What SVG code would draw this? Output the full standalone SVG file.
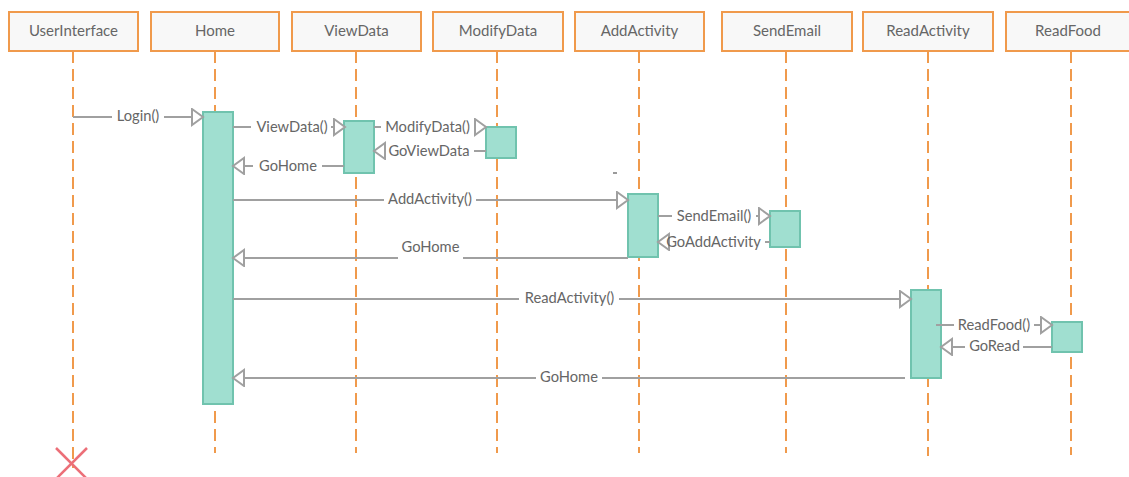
<svg xmlns="http://www.w3.org/2000/svg" width="1129" height="477" viewBox="0 0 1129 477">
  <style>
    .hdr { fill: #f8f8f8; stroke: #f09a4c; stroke-width: 2; }
    .life { stroke: #f09a4c; stroke-width: 2; stroke-dasharray: 12 6; fill: none; }
    .act { fill: #a0dfd0; stroke: #70c3ae; stroke-width: 2; }
    .name { font-family: Lato, "Liberation Sans", sans-serif; font-size: 15px; fill: #666666; text-anchor: middle; }
    .msg { stroke: #a0a0a0; stroke-width: 2; fill: none; }
    .lbl { font-family: Lato, "Liberation Sans", sans-serif; font-size: 14.7px; fill: #666666; text-anchor: middle; }
  </style>
  <defs>
    <marker id="open" markerUnits="userSpaceOnUse" markerWidth="16" markerHeight="20" refX="12" refY="9" orient="auto">
      <path d="M1,1 L12,9 L1,17 Z" fill="#ffffff" stroke="#a0a0a0" stroke-width="2" stroke-linejoin="miter"/>
    </marker>
  </defs>
  <rect width="1129" height="477" fill="#ffffff"/>

  <g id="UserInterface">
    <line class="life" x1="73" y1="51" x2="73" y2="468"/>
    <rect class="hdr" x="9" y="12" width="129" height="39"/>
    <text class="name" x="73.5" y="36">UserInterface</text>
    <g id="destroy" stroke="#ec6f78" stroke-width="2.5">
      <line x1="56" y1="448" x2="87" y2="479"/>
      <line x1="87" y1="448" x2="56" y2="479"/>
    </g>
  </g>

  <g id="Home">
    <line class="life" x1="215" y1="51" x2="215" y2="453"/>
    <rect class="hdr" x="151" y="12" width="128" height="39"/>
    <text class="name" x="215" y="36">Home</text>
    <rect class="act" x="203" y="112" width="30" height="292"/>
  </g>

  <g id="ViewData">
    <line class="life" x1="356" y1="51" x2="356" y2="453"/>
    <rect class="hdr" x="292" y="12" width="129" height="39"/>
    <text class="name" x="356.5" y="36">ViewData</text>
    <rect class="act" x="344" y="121" width="30" height="52"/>
  </g>

  <g id="ModifyData">
    <line class="life" x1="497" y1="51" x2="497" y2="453"/>
    <rect class="hdr" x="433" y="12" width="130" height="39"/>
    <text class="name" x="498" y="36">ModifyData</text>
    <rect class="act" x="486" y="127" width="30" height="31"/>
  </g>

  <g id="AddActivity">
    <line class="life" x1="639" y1="51" x2="639" y2="453"/>
    <rect class="hdr" x="575" y="12" width="129" height="39"/>
    <text class="name" x="639.5" y="36">AddActivity</text>
    <rect class="act" x="628" y="194" width="30" height="63"/>
  </g>

  <g id="SendEmail">
    <line class="life" x1="786" y1="51" x2="786" y2="453"/>
    <rect class="hdr" x="722" y="12" width="130" height="39"/>
    <text class="name" x="787" y="36">SendEmail</text>
    <rect class="act" x="770" y="211" width="30" height="36"/>
  </g>

  <g id="ReadActivity">
    <line class="life" x1="928" y1="51" x2="928" y2="456"/>
    <rect class="hdr" x="863" y="12" width="130" height="39"/>
    <text class="name" x="928" y="36">ReadActivity</text>
    <rect class="act" x="911" y="290" width="30" height="88"/>
  </g>

  <g id="ReadFood">
    <line class="life" x1="1071" y1="51" x2="1071" y2="455"/>
    <rect class="hdr" x="1006" y="12" width="130" height="39"/>
    <text class="name" x="1068" y="36">ReadFood</text>
    <rect class="act" x="1052" y="322" width="30" height="30"/>
  </g>

  <g id="connectors">
    <!-- Login() -->
    <path class="msg" d="M73,117 H112"/>
    <path class="msg" d="M164,117 H203" marker-end="url(#open)"/>
    <text class="lbl" x="138" y="121">Login()</text>

    <!-- ViewData() -->
    <path class="msg" d="M233,127 H251"/>
    <path class="msg" d="M331,127 H345" marker-end="url(#open)"/>
    <text class="lbl" x="292" y="132">ViewData()</text>

    <!-- ModifyData() -->
    <path class="msg" d="M374,127 H381"/>
    <path class="msg" d="M474,127 H486" marker-end="url(#open)"/>
    <text class="lbl" x="427.5" y="132">ModifyData()</text>

    <!-- GoViewData -->
    <path class="msg" d="M486,151 H474"/>
    <path class="msg" d="M386,151 H374" marker-end="url(#open)"/>
    <text class="lbl" x="429" y="156">GoViewData</text>

    <!-- GoHome from ViewData -->
    <path class="msg" d="M344,166 H322"/>
    <path class="msg" d="M253,166 H233" marker-end="url(#open)"/>
    <text class="lbl" x="288" y="171">GoHome</text>

    <!-- AddActivity() -->
    <path class="msg" d="M233,200 H384"/>
    <path class="msg" d="M476,200 H628" marker-end="url(#open)"/>
    <text class="lbl" x="430" y="204">AddActivity()</text>

    <!-- SendEmail() -->
    <path class="msg" d="M658,216 H672"/>
    <path class="msg" d="M756,216 H770" marker-end="url(#open)"/>
    <text class="lbl" x="714" y="221">SendEmail()</text>

    <!-- GoAddActivity -->
    <path class="msg" d="M770,242 H765"/>
    <path class="msg" d="M666,242 H658" marker-end="url(#open)"/>
    <text class="lbl" x="713.5" y="247">GoAddActivity</text>

    <!-- GoHome from AddActivity -->
    <path class="msg" d="M628,258 H463"/>
    <path class="msg" d="M398,258 H233" marker-end="url(#open)"/>
    <text class="lbl" x="430.5" y="252">GoHome</text>

    <!-- ReadActivity() -->
    <path class="msg" d="M233,299 H519"/>
    <path class="msg" d="M619,299 H911" marker-end="url(#open)"/>
    <text class="lbl" x="569.5" y="303">ReadActivity()</text>

    <!-- ReadFood() -->
    <path class="msg" d="M936,325 H954"/>
    <path class="msg" d="M1034,325 H1052" marker-end="url(#open)"/>
    <text class="lbl" x="994" y="330">ReadFood()</text>

    <!-- GoRead -->
    <path class="msg" d="M1052,347 H1023"/>
    <path class="msg" d="M965,347 H941" marker-end="url(#open)"/>
    <text class="lbl" x="994.5" y="351">GoRead</text>

    <!-- GoHome from ReadActivity -->
    <path class="msg" d="M905,378 H602"/>
    <path class="msg" d="M536,378 H233" marker-end="url(#open)"/>
    <text class="lbl" x="569" y="382">GoHome</text>
  </g>

  <rect x="613" y="172" width="4" height="2" fill="#9a9a9a"/>
</svg>
